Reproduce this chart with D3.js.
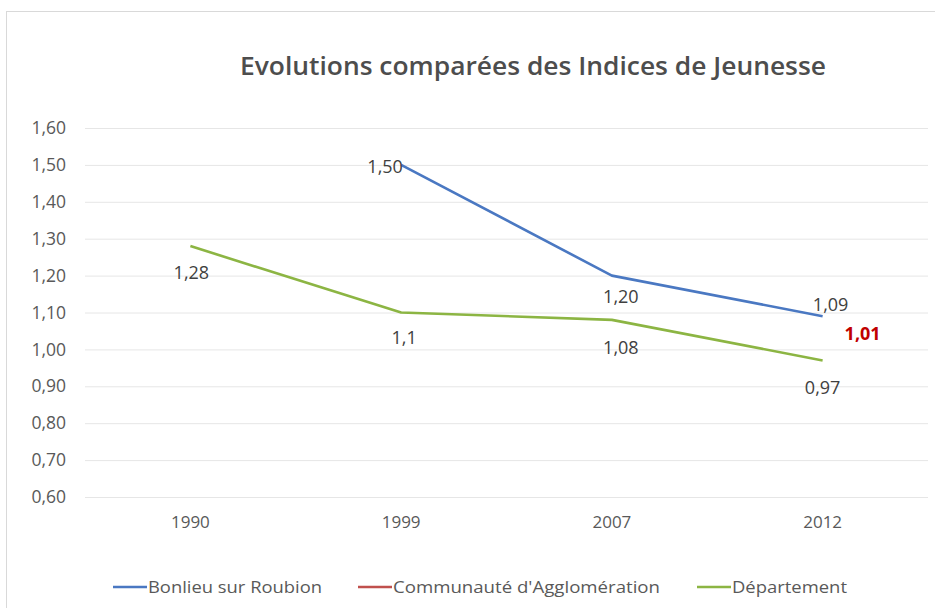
<!DOCTYPE html>
<html>
<head>
<meta charset="utf-8">
<script src="https://cdn.jsdelivr.net/npm/d3@7"></script>
<style>
  body { margin: 0; background: #fff; }
  text { font-family: "Open Sans", "Noto Sans", sans-serif; }
</style>
</head>
<body>
<svg id="chart" width="935" height="608"></svg>
<script>
// values
var years = ["1990", "1999", "2007", "2012"]
var bonlieu = [null, 1.50, 1.20, 1.09]
var agglo = [null, null, null, 1.01]
var departement = [1.28, 1.10, 1.08, 0.97]
var bonlieuLabels = [null, "1,50", "1,20", "1,09"]
var aggloLabels = [null, null, null, "1,01"]
var departementLabels = ["1,28", "1,1", "1,08", "0,97"]
var yTicks = [0.6, 0.7, 0.8, 0.9, 1.0, 1.1, 1.2, 1.3, 1.4, 1.5, 1.6]

var svg = d3.select("#chart")

// outer frame
svg.append("rect").attr("x", 6.5).attr("y", 11.5).attr("width", 940).attr("height", 620)
  .attr("fill", "#fff").attr("stroke", "#d9d9d9")

var x = d3.scaleBand().domain(years).range([85, 928])
var y = d3.scaleLinear().domain([0.6, 1.6]).range([497, 128])

// title
svg.append("text").attr("x", 533).attr("y", 75).attr("text-anchor", "middle")
  .attr("font-size", 26).attr("font-weight", 600).attr("fill", "#4d4d4d")
  .attr("textLength", 586).attr("lengthAdjust", "spacingAndGlyphs")
  .text("Evolutions comparées des Indices de Jeunesse")

// gridlines + y labels
var yAxis = d3.axisLeft(y).tickValues(yTicks).tickSize(-(928 - 85)).tickPadding(19)
  .tickFormat(function(d) { return d3.format(".2f")(d).replace(".", ",") })
var gy = svg.append("g").attr("transform", "translate(85,0)").call(yAxis)
gy.select(".domain").remove()
gy.selectAll("line").attr("stroke", "#e6e6e6").attr("stroke-width", 1)
gy.selectAll("text").attr("font-size", 17.5).attr("fill", "#595959")

// x labels
var xAxis = d3.axisBottom(x).tickSize(0).tickPadding(19)
var gx = svg.append("g").attr("transform", "translate(0,497)").call(xAxis)
gx.select(".domain").remove()
gx.selectAll("text").attr("font-size", 17).attr("fill", "#595959")

var cx = function(i) { return x(years[i]) + x.bandwidth() / 2 }

var series = [
  { name: "Bonlieu sur Roubion", vals: bonlieu, labels: bonlieuLabels, color: "#4a78c2",
    off: [null, [-16, 2], [9, 21], [8, -11]], labelColor: "#404040", bold: false },
  { name: "Communauté d'Agglomération", vals: agglo, labels: aggloLabels, color: "#c0504d",
    off: [null, null, null, [40, -12]], labelColor: "#c00000", bold: true },
  { name: "Département", vals: departement, labels: departementLabels, color: "#8cb543",
    off: [[1, 27], [3, 25], [9, 28], [0, 27]], labelColor: "#404040", bold: false }
]

var line = d3.line()
  .defined(function(d) { return d != null })
  .x(function(d, i) { return cx(i) })
  .y(function(d) { return y(d) })

series.forEach(function(s) {
  svg.append("path").datum(s.vals).attr("d", line)
    .attr("fill", "none").attr("stroke", s.color).attr("stroke-width", 2.6)
    .attr("stroke-linejoin", "round")
  s.vals.forEach(function(v, i) {
    if (v == null) return
    svg.append("text")
      .attr("x", cx(i) + s.off[i][0]).attr("y", y(v) + s.off[i][1])
      .attr("text-anchor", "middle").attr("dy", "0.35em")
      .attr("font-size", 18).attr("font-weight", s.bold ? 700 : 400)
      .attr("fill", s.labelColor).text(s.labels[i])
  })
})

// legend
var legendX = [113, 358, 697]
var legendW = [174, 267, 115]
series.forEach(function(s, i) {
  var g = svg.append("g").attr("transform", "translate(" + legendX[i] + ",587)")
  g.append("line").attr("x1", 0).attr("x2", 34).attr("stroke", s.color).attr("stroke-width", 2.6)
  g.append("text").attr("x", 35).attr("dy", "0.35em").attr("font-size", 17)
    .attr("textLength", legendW[i]).attr("lengthAdjust", "spacingAndGlyphs")
    .attr("fill", "#595959").text(s.name)
})
</script>
</body>
</html>
